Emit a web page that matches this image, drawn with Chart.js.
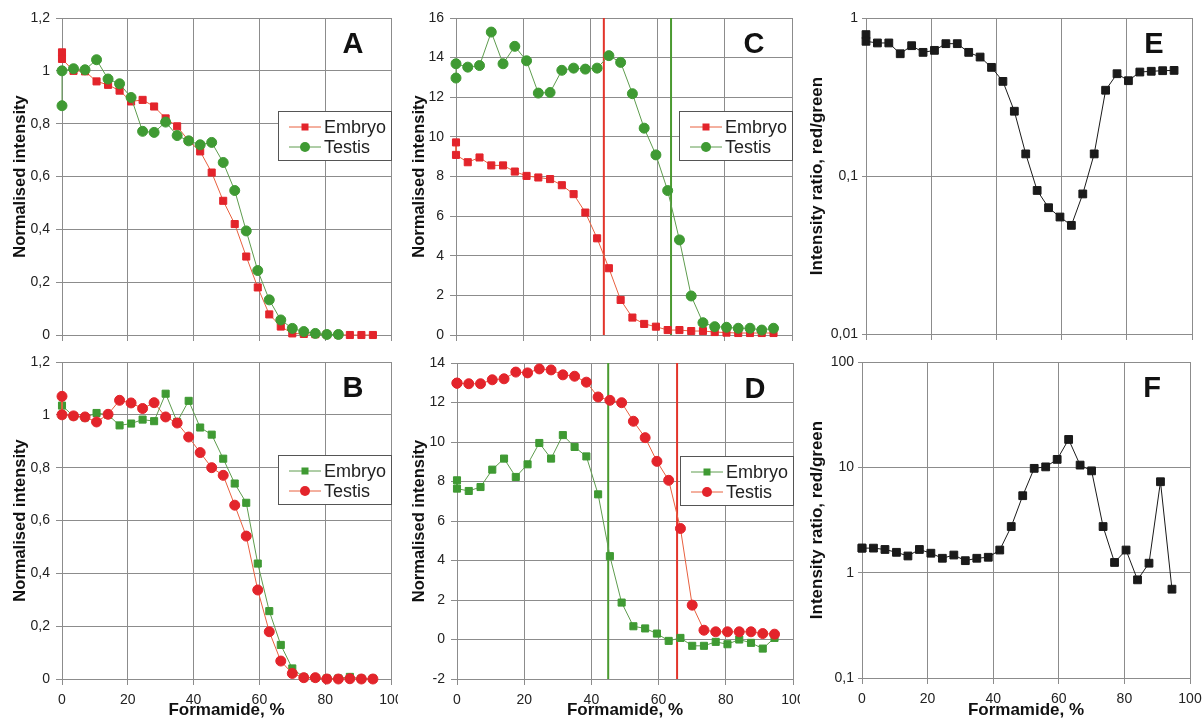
<!DOCTYPE html>
<html>
<head>
<meta charset="utf-8">
<title>Formamide melting curves</title>
<script src="https://cdn.jsdelivr.net/npm/chart.js@4.4.0/dist/chart.umd.min.js"></script>
<style>
    html, body { margin: 0; padding: 0; background: #fff; }
    body { width: 1203px; height: 721px; position: relative; overflow: hidden; }
    canvas { position: absolute; background: #fff; }
</style>
</head>
<body>
<canvas id="panelA"></canvas>
<canvas id="panelB"></canvas>
<canvas id="panelC"></canvas>
<canvas id="panelD"></canvas>
<canvas id="panelE"></canvas>
<canvas id="panelF"></canvas>
<script>
// Formamide concentration, % (two readings at 0)
const formamide = [0, 0, 3.5, 7, 10.5, 14, 17.5, 21, 24.5, 28, 31.5, 35, 38.5, 42, 45.5,
    49, 52.5, 56, 59.5, 63, 66.5, 70, 73.5, 77, 80.5, 84, 87.5, 91, 94.5];
const xTicks = [0, 20, 40, 60, 80, 100];

// Panel A - normalised intensity
const aEmbryo = [1.07, 1.045, 1.0, 0.998, 0.96, 0.947, 0.925, 0.884, 0.89, 0.865, 0.82, 0.79, 0.735, 0.695, 0.615,
    0.508, 0.42, 0.297, 0.18, 0.078, 0.032, 0.006, 0.004, 0.003, 0.002, 0.001, 0, 0, 0];
const aTestis = [0.868, 1.0, 1.008, 1.004, 1.042, 0.969, 0.951, 0.899, 0.771, 0.767, 0.806, 0.755, 0.735, 0.72, 0.729,
    0.653, 0.547, 0.394, 0.244, 0.133, 0.057, 0.025, 0.013, 0.006, 0.002, 0.002, null, null, null];

// Panel B
const bEmbryo = [1.0, 1.035, 0.995, 0.99, 1.007, 1.0, 0.96, 0.967, 0.982, 0.976, 1.08, 0.973, 1.053, 0.952, 0.925,
    0.834, 0.74, 0.667, 0.437, 0.257, 0.129, 0.04, 0.006, 0.004, 0.002, 0.002, 0.008, 0.001, 0.001];
const bTestis = [1.07, 1.0, 0.996, 0.992, 0.973, 1.002, 1.055, 1.045, 1.024, 1.046, 0.992, 0.969, 0.916, 0.857, 0.8,
    0.771, 0.658, 0.541, 0.337, 0.179, 0.068, 0.021, 0.005, 0.005, 0, 0, 0.001, 0, 0];

// Panel C
const cEmbryo = [9.72, 9.09, 8.72, 8.96, 8.56, 8.56, 8.25, 8.03, 7.95, 7.87, 7.56, 7.11, 6.18, 4.88, 3.37,
    1.77, 0.88, 0.56, 0.42, 0.25, 0.25, 0.2, 0.2, 0.15, 0.12, 0.1, 0.1, 0.1, 0.1];
const cTestis = [12.97, 13.69, 13.52, 13.6, 15.29, 13.69, 14.57, 13.84, 12.21, 12.24, 13.36, 13.47, 13.42, 13.47, 14.1,
    13.76, 12.18, 10.44, 9.09, 7.29, 4.8, 1.97, 0.62, 0.42, 0.39, 0.34, 0.34, 0.25, 0.34];
const cMelt = [44, 64];       // red (embryo), green (testis)

// Panel D
const dEmbryo = [8.06, 7.64, 7.52, 7.72, 8.6, 9.16, 8.23, 8.87, 9.95, 9.16, 10.35, 9.75, 9.27, 7.35, 4.22,
    1.87, 0.67, 0.56, 0.3, -0.07, 0.08, -0.32, -0.32, -0.12, -0.24, 0, -0.17, -0.46, 0.08];
const dTestis = [12.98, 12.98, 12.95, 12.95, 13.15, 13.2, 13.54, 13.5, 13.7, 13.65, 13.4, 13.33, 13.03, 12.28, 12.11,
    11.99, 11.05, 10.22, 9.02, 8.06, 5.62, 1.74, 0.47, 0.39, 0.39, 0.39, 0.39, 0.3, 0.27];
const dMelt = [45, 65.5];     // green (embryo), red (testis)

// Panels E and F - intensity ratio red/green (log)
const eRatio = [0.785, 0.712, 0.695, 0.695, 0.594, 0.668, 0.606, 0.624, 0.688, 0.688, 0.606, 0.566, 0.487, 0.397, 0.257,
    0.138, 0.081, 0.063, 0.055, 0.0487, 0.077, 0.138, 0.349, 0.444, 0.401, 0.455, 0.46, 0.464, 0.466];
const fRatio = [1.71, 1.71, 1.71, 1.66, 1.56, 1.44, 1.66, 1.53, 1.37, 1.47, 1.30, 1.37, 1.40, 1.64, 2.74,
    5.38, 9.78, 10.1, 11.9, 18.4, 10.5, 9.26, 2.74, 1.25, 1.64, 0.855, 1.23, 7.3, 0.697];
const eTicks = [0.01, 0.1, 1];
const fTicks = [0.1, 1, 10, 100];

// colours
const RED = '#e3242b', RED_LINE = '#e8603f';
const GREEN = '#3f9a33', GREEN_LINE = '#5e9c4e';
const GRID = '#8c8c8c';
const FONT = '"Liberation Sans", Arial, Helvetica, sans-serif';

function pts(ys) {
    return formamide.map((x, i) => ({ x: x, y: ys[i] })).filter(p => p.y !== null);
}

function fmt(v) {
    return (Math.round(v * 1000) / 1000).toString().replace('.', ',');
}

function series(label, ys, marker, color, lineColor, order, r) {
    return {
        label: label,
        data: pts(ys),
        order: order,
        borderColor: lineColor,
        borderWidth: 1,
        pointStyle: marker,
        pointRadius: r,
        pointBackgroundColor: color,
        pointBorderColor: color,
        pointBorderWidth: 1,
        tension: 0,
        clip: false
    };
}

function meltLine(x, range, color) {
    return {
        data: [{ x: x, y: range[0] }, { x: x, y: range[1] }],
        order: 5,
        borderColor: color,
        borderWidth: 2,
        pointRadius: 0
    };
}

// panel letter + legend box
const panelDecor = {
    id: 'panelDecor',
    afterDraw(chart, args, opts) {
        const ctx = chart.ctx, a = chart.chartArea;
        ctx.save();
        ctx.fillStyle = '#111';
        ctx.font = 'bold 29px ' + FONT;
        ctx.textAlign = 'center';
        ctx.textBaseline = 'middle';
        ctx.fillText(opts.letter, a.right - 38, a.top + 27);
        if (opts.legend) {
            const bw = 114, bh = 50;
            const bx = a.right - bw + 1, by = a.top + 93;
            ctx.fillStyle = '#fff';
            ctx.fillRect(bx, by, bw, bh);
            ctx.strokeStyle = '#555';
            ctx.lineWidth = 1;
            ctx.strokeRect(bx + 0.5, by + 0.5, bw - 1, bh - 1);
            opts.legend.forEach((e, i) => {
                const y = by + 16 + i * 20;
                ctx.strokeStyle = e.line;
                ctx.beginPath();
                ctx.moveTo(bx + 11, y);
                ctx.lineTo(bx + 43, y);
                ctx.stroke();
                ctx.fillStyle = e.color;
                if (e.marker === 'rect') {
                    ctx.fillRect(bx + 23.5, y - 3.5, 7, 7);
                } else {
                    ctx.beginPath();
                    ctx.arc(bx + 27, y, 5, 0, Math.PI * 2);
                    ctx.fill();
                }
                ctx.fillStyle = '#222';
                ctx.textAlign = 'left';
                ctx.font = '18px ' + FONT;
                ctx.fillText(e.label, bx + 46, y + 1);
            });
        }
        ctx.restore();
    }
};

function makePanel(p) {
    const cv = document.getElementById(p.id);
    cv.width = p.w;
    cv.height = p.h;
    cv.style.left = p.left + 'px';
    cv.style.top = p.top + 'px';

    const yWidth = p.area.l - p.left;
    const xHeight = p.top + p.h - p.area.b;
    const bottomRow = p.xLabels;

    const yScale = {
        type: p.log ? 'logarithmic' : 'linear',
        min: p.yMin,
        max: p.yMax,
        ticks: {
            color: '#222',
            font: { family: FONT, size: 14 },
            padding: p.log ? 4 : 6,
            callback: v => fmt(v)
        },
        grid: { color: GRID, lineWidth: 1, tickLength: p.log ? 4 : 6 },
        border: { color: GRID },
        title: {
            display: true,
            text: p.yTitle,
            color: '#111',
            font: { family: FONT, size: p.log ? 17 : 16.5, weight: 'bold' },
            padding: { top: p.titlePad, bottom: 0 }
        },
        afterFit: s => {
            s.width = yWidth;
            s.paddingTop = 0;
            s.paddingBottom = 0;
        }
    };
    if (p.log) {
        yScale.afterBuildTicks = s => { s.ticks = p.yTicks.map(v => ({ value: v })); };
    } else {
        yScale.ticks.stepSize = p.yStep;
    }

    new Chart(cv, {
        type: 'line',
        data: { datasets: p.datasets },
        options: {
            responsive: false,
            animation: false,
            events: [],
            layout: {
                padding: { left: 0, top: p.area.t - p.top, right: p.left + p.w - p.area.r, bottom: 0 }
            },
            plugins: {
                legend: { display: false },
                tooltip: { enabled: false },
                panelDecor: { letter: p.letter, legend: p.legend }
            },
            scales: {
                x: {
                    type: 'linear',
                    min: 0,
                    max: 100,
                    afterBuildTicks: s => { s.ticks = xTicks.map(v => ({ value: v })); },
                    ticks: {
                        display: bottomRow,
                        color: '#222',
                        font: { family: FONT, size: 14 },
                        padding: 7,
                        maxRotation: 0
                    },
                    grid: { color: GRID, lineWidth: 1, tickLength: 6 },
                    border: { color: GRID },
                    title: {
                        display: bottomRow,
                        text: 'Formamide, %',
                        color: '#111',
                        font: { family: FONT, size: 17, weight: 'bold' },
                        padding: { top: 0, bottom: 0 }
                    },
                    afterFit: s => {
                        s.height = xHeight;
                        s.paddingLeft = 0;
                        s.paddingRight = 0;
                    }
                },
                y: yScale
            }
        },
        plugins: [panelDecor]
    });
}

const redSq = { label: 'Embryo', marker: 'rect', color: RED, line: RED_LINE };
const greenCirc = { label: 'Testis', marker: 'circle', color: GREEN, line: GREEN_LINE };
const greenSq = { label: 'Embryo', marker: 'rect', color: GREEN, line: GREEN_LINE };
const redCirc = { label: 'Testis', marker: 'circle', color: RED, line: RED_LINE };

makePanel({
    id: 'panelA', letter: 'A', left: 0, top: 0, w: 398, h: 341,
    area: { l: 62, t: 18, r: 391, b: 335 }, xLabels: false,
    yMin: 0, yMax: 1.2, yStep: 0.2, yTitle: 'Normalised intensity', titlePad: 11,
    legend: [redSq, greenCirc],
    datasets: [
        series('Testis', aTestis, 'circle', GREEN, GREEN_LINE, 1, 5),
        series('Embryo', aEmbryo, 'rect', RED, RED_LINE, 2, 5)
    ]
});

makePanel({
    id: 'panelB', letter: 'B', left: 0, top: 341, w: 398, h: 380,
    area: { l: 62, t: 362, r: 391, b: 679 }, xLabels: true,
    yMin: 0, yMax: 1.2, yStep: 0.2, yTitle: 'Normalised intensity', titlePad: 11,
    legend: [greenSq, redCirc],
    datasets: [
        series('Testis', bTestis, 'circle', RED, RED_LINE, 1, 5),
        series('Embryo', bEmbryo, 'rect', GREEN, GREEN_LINE, 2, 5)
    ]
});

makePanel({
    id: 'panelC', letter: 'C', left: 398, top: 0, w: 402, h: 341,
    area: { l: 456, t: 18, r: 792, b: 335 }, xLabels: false,
    yMin: 0, yMax: 16, yStep: 2, yTitle: 'Normalised intensity', titlePad: 12,
    legend: [redSq, greenCirc],
    datasets: [
        series('Testis', cTestis, 'circle', GREEN, GREEN_LINE, 1, 5),
        series('Embryo', cEmbryo, 'rect', RED, RED_LINE, 2, 5),
        meltLine(cMelt[0], [0, 16], '#e3342a'),
        meltLine(cMelt[1], [0, 16], '#4a9a30')
    ]
});

makePanel({
    id: 'panelD', letter: 'D', left: 398, top: 341, w: 402, h: 380,
    area: { l: 457, t: 363, r: 793, b: 679 }, xLabels: true,
    yMin: -2, yMax: 14, yStep: 2, yTitle: 'Normalised intensity', titlePad: 12,
    legend: [greenSq, redCirc],
    datasets: [
        series('Testis', dTestis, 'circle', RED, RED_LINE, 1, 5),
        series('Embryo', dEmbryo, 'rect', GREEN, GREEN_LINE, 2, 5),
        meltLine(dMelt[0], [-2, 14], '#4a9a30'),
        meltLine(dMelt[1], [-2, 14], '#e3342a')
    ]
});

makePanel({
    id: 'panelE', letter: 'E', left: 800, top: 0, w: 403, h: 341,
    area: { l: 866, t: 18, r: 1192, b: 334 }, xLabels: false, log: true,
    yMin: 0.01, yMax: 1, yTicks: eTicks, yTitle: 'Intensity ratio, red/green', titlePad: 7,
    datasets: [series('Ratio', eRatio, 'rect', '#1a1a1a', '#1a1a1a', 1, 5.5)]
});

makePanel({
    id: 'panelF', letter: 'F', left: 800, top: 341, w: 403, h: 380,
    area: { l: 862, t: 362, r: 1190, b: 678 }, xLabels: true, log: true,
    yMin: 0.1, yMax: 100, yTicks: fTicks, yTitle: 'Intensity ratio, red/green', titlePad: 7,
    datasets: [series('Ratio', fRatio, 'rect', '#1a1a1a', '#1a1a1a', 1, 5.5)]
});
</script>
</body>
</html>
